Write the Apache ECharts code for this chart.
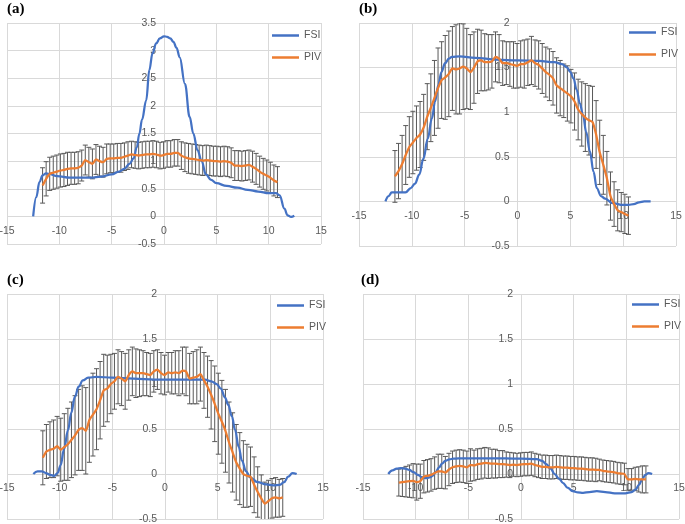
<!DOCTYPE html>
<html>
<head>
<meta charset="utf-8">
<script src="https://cdn.jsdelivr.net/npm/echarts@6/dist/echarts.min.js"></script>
<style>
  html, body { margin: 0; padding: 0; background: #fff; }
  #main { width: 685px; height: 524px; }
</style>
</head>
<body>
<div id="main"></div>
<script>
var chartDom = document.getElementById('main');
var myChart = echarts.init(chartDom);
var option;

const textColor = '#595959';
const gridColor = '#d9d9d9';
const fsiColor = '#4472C4';
const pivColor = '#ED7D31';
const barColor = '#595959';
const labelFont = 'Liberation Sans';

// PIV sample positions (shared by all four panels)
const PIV_X = [-11.60, -11.26, -10.92, -10.58, -10.24, -9.90, -9.56, -9.22, -8.88, -8.54,
  -8.20, -7.86, -7.52, -7.18, -6.84, -6.50, -6.16, -5.82, -5.48, -5.14,
  -4.80, -4.46, -4.12, -3.78, -3.44, -3.10, -2.76, -2.42, -2.08, -1.74,
  -1.40, -1.06, -0.72, -0.38, -0.04, 0.30, 0.64, 0.98, 1.32, 1.66,
  2.00, 2.34, 2.68, 3.02, 3.36, 3.70, 4.04, 4.38, 4.72, 5.06,
  5.40, 5.74, 6.08, 6.42, 6.76, 7.10, 7.44, 7.78, 8.12, 8.46,
  8.80, 9.14, 9.48, 9.82, 10.16, 10.50, 10.84, 11.18, 11.52, 11.86];

// (a)
const FSI_A_X = [-12.5, -12.2, -11.9, -11.6, -11.3, -11, -10.2, -9, -8, -7, -6, -5, -4.3, -3.8, -3.3, -2.9, -2.6, -2.35, -2.1, -1.7,
  -1.4, -1.1, -0.75, -0.4, 0, 0.3, 0.6, 0.9, 1.2, 1.5, 2.0, 2.45, 2.8, 3.2, 3.6, 4.0, 4.5, 5, 6, 7,
  8, 9, 10, 10.7, 11.05, 11.5, 11.8, 12.15, 12.45];
const FSI_A_Y = [0, 0.35, 0.62, 0.74, 0.78, 0.77, 0.73, 0.70, 0.70, 0.70, 0.72, 0.76, 0.81, 0.86, 0.95, 1.05, 1.25, 1.5, 1.75, 2.1,
  2.65, 2.95, 3.13, 3.22, 3.26, 3.25, 3.22, 3.16, 3.05, 2.88, 2.4, 1.8, 1.5, 1.2, 1.0, 0.76, 0.66, 0.6, 0.55, 0.52,
  0.48, 0.45, 0.42, 0.42, 0.38, 0.14, 0.02, -0.01, 0.01];
const PIV_A_MEAN = [0.56, 0.68, 0.77, 0.79, 0.81, 0.83, 0.84, 0.86, 0.87, 0.87,
  0.88, 0.92, 1.02, 0.98, 0.95, 1.03, 1.00, 0.98, 1.04, 1.05,
  1.05, 1.06, 1.06, 1.08, 1.10, 1.12, 1.11, 1.10, 1.11, 1.12,
  1.12, 1.13, 1.12, 1.10, 1.11, 1.13, 1.13, 1.15, 1.15, 1.10,
  1.07, 1.05, 1.04, 1.03, 1.02, 1.01, 1.02, 1.01, 1.00, 1.00,
  0.99, 1.00, 0.99, 0.97, 0.92, 0.92, 0.91, 0.92, 0.93, 0.90,
  0.86, 0.81, 0.77, 0.74, 0.70, 0.65, 0.62];
const PIV_A_ERR = [0.32, 0.31, 0.30, 0.30, 0.30, 0.30, 0.30, 0.30, 0.29, 0.29,
  0.29, 0.28, 0.27, 0.27, 0.27, 0.27, 0.27, 0.27, 0.27, 0.26,
  0.26, 0.26, 0.26, 0.25, 0.25, 0.24, 0.24, 0.24, 0.24, 0.24,
  0.24, 0.24, 0.24, 0.24, 0.24, 0.24, 0.24, 0.24, 0.24, 0.25,
  0.26, 0.27, 0.27, 0.27, 0.27, 0.27, 0.27, 0.27, 0.27, 0.27,
  0.27, 0.27, 0.27, 0.27, 0.27, 0.27, 0.27, 0.27, 0.27, 0.28,
  0.28, 0.28, 0.28, 0.28, 0.28, 0.28, 0.28];

// (b)
const FSI_B_X = [-12.5, -12.2, -11.9, -11.3, -10.6, -10.1, -9.7, -9.3, -8.9, -8.5, -8.1, -7.8, -7.5, -7.2, -6.85, -6.5, -6.2, -5.5, -4, -2,
  0, 2, 3.5, 4.2, 4.7, 5.0, 5.3, 5.6, 5.9, 6.2, 6.5, 6.85, 7.2, 7.5, 7.9, 8.3, 9, 10, 10.5, 11,
  11.5, 12, 12.6];
const FSI_B_Y = [0, 0.06, 0.1, 0.1, 0.1, 0.15, 0.2, 0.3, 0.48, 0.7, 0.93, 1.12, 1.3, 1.45, 1.55, 1.6, 1.62, 1.625, 1.61, 1.59,
  1.58, 1.575, 1.56, 1.54, 1.5, 1.45, 1.38, 1.25, 1.1, 0.97, 0.78, 0.56, 0.33, 0.15, 0.06, 0.03, -0.02, -0.04, -0.04, -0.03,
  -0.01, 0.0, 0.0];
const PIV_B_MEAN = [0.28, 0.34, 0.42, 0.52, 0.61, 0.66, 0.71, 0.75, 0.83, 0.95,
  1.05, 1.16, 1.27, 1.36, 1.39, 1.43, 1.49, 1.48, 1.49, 1.51,
  1.49, 1.45, 1.50, 1.57, 1.58, 1.56, 1.56, 1.57, 1.62, 1.60,
  1.55, 1.55, 1.54, 1.53, 1.52, 1.54, 1.54, 1.56, 1.58, 1.55,
  1.53, 1.49, 1.45, 1.42, 1.38, 1.30, 1.27, 1.24, 1.21, 1.18,
  1.12, 1.03, 0.98, 0.94, 0.91, 0.89, 0.75, 0.55, 0.41, 0.26,
  0.06, -0.03, -0.10, -0.12, -0.14, -0.16];
const PIV_B_ERR = [0.29, 0.31, 0.32, 0.33, 0.34, 0.35, 0.36, 0.37, 0.37, 0.37,
  0.38, 0.42, 0.45, 0.43, 0.47, 0.48, 0.47, 0.50, 0.51, 0.48,
  0.45, 0.42, 0.40, 0.36, 0.34, 0.32, 0.31, 0.30, 0.28, 0.27,
  0.25, 0.24, 0.25, 0.26, 0.25, 0.26, 0.27, 0.26, 0.27, 0.26,
  0.27, 0.28, 0.28, 0.29, 0.30, 0.31, 0.31, 0.30, 0.31, 0.30,
  0.32, 0.34, 0.36, 0.38, 0.39, 0.40, 0.38, 0.36, 0.33, 0.30,
  0.27, 0.25, 0.23, 0.22, 0.22, 0.21];

// (c)
const FSI_C_X = [-12.5, -12.1, -11.7, -11.3, -10.9, -10.5, -10.2, -9.9, -9.6, -9.2, -8.9, -8.55, -8.2, -7.8, -7.3, -6.5, -5, -3, -1, 1,
  3, 3.8, 4.4, 4.9, 5.3, 5.7, 6.0, 6.35, 6.65, 7.0, 7.3, 7.7, 8.1, 8.8, 9.6, 10.3, 10.9, 11.3, 11.7, 12.1,
  12.5];
const FSI_C_Y = [0, 0.03, 0.03, 0.01, -0.01, -0.02, 0.01, 0.1, 0.27, 0.49, 0.68, 0.86, 0.97, 1.04, 1.07, 1.08, 1.07, 1.06, 1.05, 1.05,
  1.05, 1.05, 1.03, 1.0, 0.95, 0.85, 0.77, 0.64, 0.49, 0.3, 0.15, 0.03, -0.04, -0.09, -0.115, -0.125, -0.12, -0.09, -0.03, 0.01,
  0.0];
const PIV_C_MEAN = [0.18, 0.25, 0.27, 0.28, 0.31, 0.27, 0.30, 0.33, 0.38, 0.43,
  0.49, 0.51, 0.48, 0.60, 0.66, 0.72, 0.82, 0.93, 0.95, 1.00,
  1.03, 1.08, 1.06, 1.03, 1.10, 1.14, 1.12, 1.12, 1.12, 1.11,
  1.10, 1.14, 1.16, 1.12, 1.10, 1.13, 1.12, 1.13, 1.12, 1.15,
  1.14, 1.06, 1.07, 1.08, 1.11, 1.04, 0.97, 0.88, 0.78, 0.67,
  0.58, 0.48, 0.35, 0.24, 0.13, 0.06, 0.00, -0.02, -0.03, -0.12,
  -0.20, -0.27, -0.33, -0.30, -0.27, -0.26, -0.27, -0.26];
const PIV_C_ERR = [0.30, 0.30, 0.31, 0.32, 0.33, 0.35, 0.37, 0.40, 0.42, 0.44,
  0.45, 0.47, 0.48, 0.47, 0.46, 0.45, 0.43, 0.40, 0.37, 0.33,
  0.31, 0.30, 0.30, 0.31, 0.28, 0.27, 0.27, 0.26, 0.25, 0.24,
  0.24, 0.23, 0.22, 0.23, 0.22, 0.22, 0.23, 0.24, 0.25, 0.26,
  0.27, 0.28, 0.29, 0.30, 0.30, 0.31, 0.34, 0.38, 0.42, 0.45,
  0.46, 0.46, 0.45, 0.44, 0.42, 0.40, 0.37, 0.35, 0.33, 0.31,
  0.28, 0.26, 0.24, 0.23, 0.22, 0.22, 0.21, 0.21];

// (d)
const FSI_D_X = [-12.6, -12.2, -11.8, -11.4, -11, -10.6, -10.2, -9.8, -9.4, -9.0, -8.6, -8.4, -8.1, -7.8, -7.5, -7.2, -6.8, -6.4, -5.5, -3,
  0, 1.5, 2.0, 2.4, 2.8, 3.2, 3.6, 4.0, 4.4, 4.9, 5.4, 5.9, 6.5, 7.2, 8, 8.9, 9.9, 10.5, 10.9, 11.2,
  11.5, 11.8, 12.1, 12.45];
const FSI_D_Y = [0, 0.04, 0.06, 0.065, 0.06, 0.045, 0.02, -0.01, -0.035, -0.045, -0.035, -0.02, 0.02, 0.07, 0.115, 0.145, 0.163, 0.17, 0.175, 0.175,
  0.17, 0.165, 0.145, 0.11, 0.06, 0.0, -0.05, -0.1, -0.15, -0.19, -0.205, -0.21, -0.2, -0.19, -0.2, -0.215, -0.215, -0.2, -0.17, -0.12,
  -0.06, -0.01, 0.01, 0.0];
const PIV_D_MEAN = [-0.095, -0.09, -0.085, -0.08, -0.075, -0.09, -0.08, -0.03, -0.02, -0.01,
  0.01, 0.03, 0.03, 0.015, 0.05, 0.075, 0.085, 0.09, 0.085, 0.075,
  0.10, 0.095, 0.11, 0.115, 0.125, 0.12, 0.115, 0.115, 0.11, 0.11,
  0.105, 0.10, 0.105, 0.10, 0.105, 0.11, 0.11, 0.115, 0.10, 0.09,
  0.08, 0.08, 0.075, 0.075, 0.08, 0.075, 0.07, 0.07, 0.065, 0.065,
  0.06, 0.06, 0.055, 0.05, 0.05, 0.045, 0.045, 0.035, 0.03, 0.025,
  0.02, 0.01, 0.005, 0.0, -0.06, -0.06, -0.055, -0.06, -0.06, -0.06];
const PIV_D_ERR = [0.15, 0.16, 0.17, 0.18, 0.19, 0.20, 0.19, 0.18, 0.18, 0.18,
  0.18, 0.19, 0.19, 0.18, 0.18, 0.18, 0.18, 0.18, 0.18, 0.18,
  0.18, 0.17, 0.17, 0.17, 0.17, 0.17, 0.16, 0.16, 0.15, 0.15,
  0.14, 0.14, 0.13, 0.13, 0.13, 0.13, 0.13, 0.13, 0.13, 0.13,
  0.13, 0.13, 0.13, 0.13, 0.13, 0.13, 0.13, 0.13, 0.13, 0.13,
  0.13, 0.13, 0.13, 0.13, 0.13, 0.13, 0.12, 0.12, 0.12, 0.12,
  0.12, 0.12, 0.12, 0.12, 0.12, 0.12, 0.13, 0.14, 0.15, 0.15];

const X_MIN = -15;
const X_MAX = 15;

const PANELS = [
  { label: '(a)', fsiX: FSI_A_X, fsiY: FSI_A_Y, mean: PIV_A_MEAN, err: PIV_A_ERR, yMin: -0.5, yMax: 3.5,
    grid: { left: 7, top: 23, width: 314, height: 221 }, title: { left: 7, top: 2 }, legend: { left: 272, top: 30 } },
  { label: '(b)', fsiX: FSI_B_X, fsiY: FSI_B_Y, mean: PIV_B_MEAN, err: PIV_B_ERR, yMin: -0.5, yMax: 2,
    grid: { left: 359, top: 23, width: 317, height: 223 }, title: { left: 359, top: 2 }, legend: { left: 629, top: 27 } },
  { label: '(c)', fsiX: FSI_C_X, fsiY: FSI_C_Y, mean: PIV_C_MEAN, err: PIV_C_ERR, yMin: -0.5, yMax: 2,
    grid: { left: 7, top: 294, width: 316, height: 225 }, title: { left: 7, top: 273 }, legend: { left: 277, top: 300 } },
  { label: '(d)', fsiX: FSI_D_X, fsiY: FSI_D_Y, mean: PIV_D_MEAN, err: PIV_D_ERR, yMin: -0.5, yMax: 2,
    grid: { left: 363, top: 294, width: 316, height: 225 }, title: { left: 361, top: 273 }, legend: { left: 632, top: 299 } }
];

function renderErrorBar(params, api) {
  const x = api.value(0);
  const m = api.value(1);
  const e = api.value(2);
  const hi = api.coord([x, m + e]);
  const lo = api.coord([x, m - e]);
  const cap = 2.5;
  const style = { stroke: barColor, lineWidth: 1 };
  return {
    type: 'group',
    children: [
      { type: 'line', shape: { x1: hi[0], y1: hi[1], x2: lo[0], y2: lo[1] }, style: style },
      { type: 'line', shape: { x1: hi[0] - cap, y1: hi[1], x2: hi[0] + cap, y2: hi[1] }, style: style },
      { type: 'line', shape: { x1: lo[0] - cap, y1: lo[1], x2: lo[0] + cap, y2: lo[1] }, style: style }
    ]
  };
}

const axisLabelStyle = { color: textColor, fontSize: 10.5, fontFamily: labelFont };

option = {
  animation: false,
  backgroundColor: '#fff',
  title: [],
  legend: [],
  grid: [],
  xAxis: [],
  yAxis: [],
  series: []
};

PANELS.forEach((p, i) => {
  // axes cross at (0, 0): shift the label rows in from the grid edges
  const xAxisShift = p.grid.height * (0 - p.yMin) / (p.yMax - p.yMin);
  const yAxisShift = p.grid.width * (0 - X_MIN) / (X_MAX - X_MIN);

  option.title.push({
    text: p.label,
    left: p.title.left,
    top: p.title.top,
    padding: 0,
    textStyle: { fontFamily: 'Liberation Serif', fontWeight: 'bold', fontSize: 15, color: '#000' }
  });
  option.legend.push({
    data: ['FSI', 'PIV'],
    orient: 'vertical',
    left: p.legend.left,
    top: p.legend.top,
    padding: 0,
    icon: 'rect',
    itemWidth: 27,
    itemHeight: 2.5,
    itemGap: 11,
    itemTextGap: 2,
    textStyle: { color: textColor, fontSize: 10.5, fontFamily: labelFont }
  });
  option.grid.push(Object.assign({ containLabel: false, outerBoundsMode: 'none' }, p.grid));
  option.xAxis.push({
    gridIndex: i,
    type: 'value',
    position: 'bottom',
    offset: -xAxisShift,
    min: X_MIN,
    max: X_MAX,
    interval: 5,
    axisLine: { show: false, onZero: false },
    axisTick: { show: false },
    splitLine: { show: true, lineStyle: { color: gridColor, width: 1 } },
    axisLabel: Object.assign({ margin: 9 }, axisLabelStyle)
  });
  option.yAxis.push({
    gridIndex: i,
    type: 'value',
    position: 'left',
    offset: -yAxisShift,
    min: p.yMin,
    max: p.yMax,
    interval: 0.5,
    axisLine: { show: false, onZero: false },
    axisTick: { show: false },
    splitLine: { show: true, lineStyle: { color: gridColor, width: 1 } },
    axisLabel: Object.assign({ margin: 8 }, axisLabelStyle)
  });

  const errData = p.mean.map((m, k) => [PIV_X[k], m, p.err[k]]);
  option.series.push({
    name: 'PIV error',
    type: 'custom',
    xAxisIndex: i,
    yAxisIndex: i,
    clip: true,
    renderItem: renderErrorBar,
    encode: { x: 0, y: 1 },
    data: errData,
    z: 1
  });
  option.series.push({
    name: 'FSI',
    type: 'line',
    xAxisIndex: i,
    yAxisIndex: i,
    data: p.fsiX.map((x, k) => [x, p.fsiY[k]]),
    showSymbol: false,
    symbol: 'none',
    smooth: 0.4,
    smoothMonotone: 'x',
    color: fsiColor,
    lineStyle: { color: fsiColor, width: 2.25 },
    z: 3
  });
  option.series.push({
    name: 'PIV',
    type: 'line',
    xAxisIndex: i,
    yAxisIndex: i,
    data: p.mean.map((m, k) => [PIV_X[k], m]),
    showSymbol: false,
    symbol: 'none',
    smooth: 0.2,
    color: pivColor,
    lineStyle: { color: pivColor, width: 2.25 },
    z: 4
  });
});

option && myChart.setOption(option);
</script>
</body>
</html>
